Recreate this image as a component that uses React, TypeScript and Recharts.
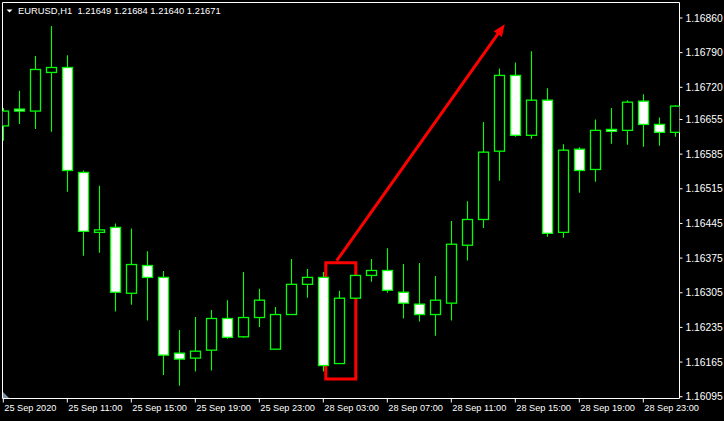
import React from "react";
import {
	ComposedChart,
	Bar,
	XAxis,
	YAxis,
	ReferenceArea,
	ReferenceLine,
} from "recharts";

// EURUSD H1 candles
const opens = [
	1.16642, 1.16676, 1.16672, 1.1675, 1.1676, 1.16548, 1.16427, 1.16437, 1.16304, 1.1636,
	1.16336, 1.16183, 1.16173, 1.16189, 1.16253, 1.16216, 1.16255, 1.16191, 1.16261, 1.16322,
	1.16336, 1.16162, 1.16294, 1.1634, 1.1635, 1.16306, 1.16282, 1.16261, 1.16284, 1.16401,
	1.16453, 1.16591, 1.16744, 1.16623, 1.16694, 1.16427, 1.16595, 1.16554, 1.16635, 1.16633,
	1.16692, 1.16645, 1.16629,
];
const highs = [
	1.16678, 1.16713, 1.16783, 1.16844, 1.16785, 1.16552, 1.16521, 1.16445, 1.16435, 1.16389,
	1.16349, 1.1623, 1.16256, 1.1627, 1.1629, 1.16347, 1.16313, 1.16276, 1.16373, 1.16353,
	1.16347, 1.16309, 1.1634, 1.16373, 1.16395, 1.16363, 1.16365, 1.16339, 1.1645, 1.1649,
	1.1665, 1.16758, 1.1677, 1.16793, 1.16718, 1.16605, 1.16599, 1.16655, 1.16678, 1.16694,
	1.16706, 1.16659, 1.16684,
];
const lows = [
	1.16612, 1.16646, 1.16636, 1.1663, 1.16509, 1.1638, 1.16386, 1.16267, 1.16281, 1.16249,
	1.16139, 1.16117, 1.16146, 1.16148, 1.16212, 1.16214, 1.16236, 1.16191, 1.16261, 1.16295,
	1.16146, 1.16162, 1.16294, 1.16327, 1.16305, 1.16253, 1.16247, 1.16218, 1.16249, 1.1637,
	1.16436, 1.16531, 1.1662, 1.16616, 1.16418, 1.16416, 1.16507, 1.16529, 1.16606, 1.16604,
	1.166, 1.16602, 1.1662,
];
const closes = [
	1.16672, 1.16672, 1.16756, 1.1676, 1.16552, 1.16429, 1.16432, 1.16306, 1.16362, 1.16336,
	1.16179, 1.16171, 1.16187, 1.16253, 1.16215, 1.16255, 1.1629, 1.16261, 1.16322, 1.16336,
	1.16158, 1.16294, 1.1634, 1.1635, 1.1631, 1.16284, 1.16261, 1.1629, 1.16403, 1.16453,
	1.16589, 1.16744, 1.16623, 1.16694, 1.16425, 1.16593, 1.16552, 1.16633, 1.16631, 1.1669,
	1.16645, 1.16629, 1.16682,
];

const timeTicks = [0, 4, 8, 12, 16, 20, 24, 28, 32, 36, 40];
const timeLabels = [
	"25 Sep 2020",
	"25 Sep 11:00",
	"25 Sep 15:00",
	"25 Sep 19:00",
	"25 Sep 23:00",
	"28 Sep 03:00",
	"28 Sep 07:00",
	"28 Sep 11:00",
	"28 Sep 15:00",
	"28 Sep 19:00",
	"28 Sep 23:00",
];
const priceTicks = [
	1.16095, 1.16165, 1.16235, 1.16305, 1.16375, 1.16445, 1.16515, 1.16585, 1.16655, 1.1672,
	1.1679, 1.1686,
];

// visible window of the chart
const xDomain = [-0.051, 42.261];
const yDomain = [1.160914, 1.168913];

// red drawing objects
const boxX = [20.155, 22.03];
const boxY = [1.161308, 1.163657];
const arrowFrom = { x: 20.84, y: 1.163697 };
const arrowTo = { x: 31.34, y: 1.168473 };

const header = "EURUSD,H1  1.21649 1.21684 1.21640 1.21671";

const data = opens.map((o, i) => ({
	i,
	o,
	h: highs[i],
	l: lows[i],
	c: closes[i],
	range: [lows[i], highs[i]],
}));

const LIME = "#00ff00";
const FONT = "'Liberation Sans', Arial, sans-serif";

const Candle = (props: any) => {
	const { x, y, width, height, payload } = props;
	const { o, h, l, c } = payload;
	const cx = Math.floor(x + width / 2) + 0.5;
	const k = h - l > 0 ? height / (h - l) : 0;
	const top = y + (h - Math.max(o, c)) * k;
	const bot = y + (h - Math.min(o, c)) * k;
	const bear = c < o;
	return (
		<g>
			<line x1={cx} x2={cx} y1={y} y2={y + height} stroke={LIME} strokeWidth={1.1} />
			<rect
				x={cx - 5}
				y={top}
				width={10}
				height={Math.max(bot - top, 1.5)}
				fill={bear ? "#ffffff" : "#000000"}
				stroke={LIME}
				strokeWidth={1.3}
			/>
		</g>
	);
};

const TimeTick = (props: any) => {
	const { x, y, payload } = props;
	const idx = timeTicks.indexOf(payload.value);
	return (
		<text
			x={x + 1}
			y={y + 7}
			textAnchor="start"
			fill="#ffffff"
			fontSize={9.2}
			fontFamily={FONT}
		>
			{timeLabels[idx]}
		</text>
	);
};

const Arrow = (props: any) => {
	const { x1, y1, x2, y2 } = props;
	const dx = x2 - x1;
	const dy = y2 - y1;
	const len = Math.sqrt(dx * dx + dy * dy);
	const ux = dx / len;
	const uy = dy / len;
	const hl = 12;
	const hw = 5;
	const bx = x2 - ux * hl;
	const by = y2 - uy * hl;
	return (
		<g>
			<line x1={x1} y1={y1} x2={bx + ux * 2} y2={by + uy * 2} stroke="#ff0000" strokeWidth={3} />
			<polygon
				points={`${x2},${y2} ${bx - uy * hw},${by + ux * hw} ${bx + uy * hw},${by - ux * hw}`}
				fill="#ff0000"
			/>
		</g>
	);
};

export default function App() {
	return (
		<div
			style={{
				position: "absolute",
				left: 0,
				top: 0,
				width: 724,
				height: 421,
				background: "#000",
			}}
		>
			<ComposedChart
				width={724}
				height={421}
				data={data}
				margin={{ top: 2.5, left: 2.5, right: 0, bottom: 0 }}
			>
				<XAxis
					dataKey="i"
					type="number"
					domain={xDomain}
					allowDataOverflow
					ticks={timeTicks}
					interval={0}
					height={22.5}
					axisLine={false}
					tickLine={{ stroke: "#ffffff" }}
					tickSize={4}
					tickMargin={1}
					tick={<TimeTick />}
				/>
				<YAxis
					orientation="right"
					type="number"
					domain={yDomain}
					allowDataOverflow
					ticks={priceTicks}
					interval={0}
					width={44.5}
					axisLine={false}
					tickLine={{ stroke: "#ffffff" }}
					tickSize={3}
					tickMargin={3}
					tick={{ fill: "#ffffff", fontSize: 10.3, fontFamily: FONT }}
					tickFormatter={(v: number) => v.toFixed(5)}
				/>
				<Bar
					dataKey="range"
					shape={<Candle />}
					barSize={11}
					isAnimationActive={false}
				/>
				<ReferenceArea
					x1={boxX[0]}
					x2={boxX[1]}
					y1={boxY[0]}
					y2={boxY[1]}
					fill="none"
					stroke="#ff0000"
					strokeWidth={3}
					ifOverflow="visible"
				/>
				<ReferenceLine
					segment={[arrowFrom, arrowTo]}
					ifOverflow="visible"
					shape={(p: any) => <Arrow {...p} />}
				/>
				<ReferenceArea
					x1={xDomain[0]}
					x2={xDomain[1]}
					y1={yDomain[0]}
					y2={yDomain[1]}
					fill="none"
					stroke="#ffffff"
					strokeWidth={1}
					ifOverflow="visible"
				/>
			</ComposedChart>
			<svg
				width={724}
				height={421}
				style={{ position: "absolute", left: 0, top: 0, pointerEvents: "none" }}
			>
				<polygon points="6.5,9.5 12.5,9.5 9.5,12.5" fill="#ffffff" />
				<text
					x={18}
					y={14.3}
					fill="#ffffff"
					fontSize={9.4}
					fontFamily={FONT}
					style={{ whiteSpace: "pre" }}
				>
					{header}
				</text>
				<polygon points="3,392 3,398 9,398" fill="#8090a0" />
			</svg>
		</div>
	);
}
